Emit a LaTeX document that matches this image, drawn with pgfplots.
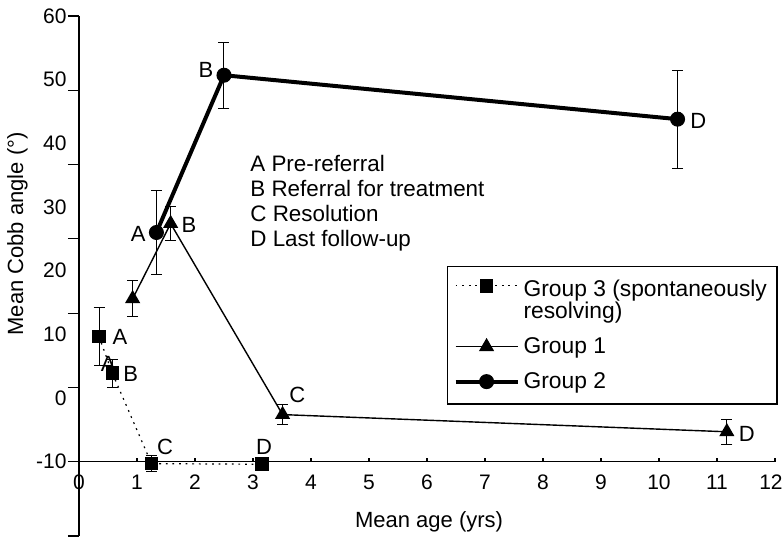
\documentclass[border=0pt]{standalone}
\usepackage{fontspec}
\setmainfont{Liberation Sans}
\usepackage{pgfplots}
\pgfplotsset{compat=1.18}
\usepackage{pgfplotstable}

\pgfplotsset{
  g3legend/.style={legend image code/.code={\path[draw=none,fill=none] (0pt,-11pt) rectangle (31pt,11pt);
    \draw[mark repeat=2,mark phase=2,##1] plot coordinates {(0pt,7.3pt) (15.5pt,7.3pt) (31pt,7.3pt)};}},
  linelegend/.style={legend image code/.code={\draw[mark repeat=2,mark phase=2,##1] plot coordinates {(0pt,0pt) (15.5pt,0pt) (31pt,0pt)};}},
}

% y values in the chart's (label) scale; +10 shift so that the x axis (-10) sits at 0
\pgfplotstableread{
x y e
0.345 9.65 4.6
0.575 3.9 2.2
1.25 -10.3 1.2
3.16 -10.4 0.3
}\gthree
\pgfplotstableread{
x y e
0.925 15.6 2.8
1.58 27.4 2.7
3.51 -2.6 1.6
11.17 -5.3 2.0
}\gone
\pgfplotstableread{
x y e
1.335 26.0 6.6
2.50 50.7 5.2
10.32 43.8 7.7
}\gtwo

\begin{document}
\begin{tikzpicture}
\begin{axis}[
  at={(0,0)}, anchor=south west,
  scale only axis, width=348pt, height=260pt,
  xmin=0, xmax=12, ymin=-11.667, ymax=70,
  axis x line=middle, axis y line=left,
  axis line style={-, line width=0.6pt},
  clip=false,
  xtick={0,...,12},
  xticklabels={0,1,2,3,4,5,6,7,8,9,10,11,\kern-4pt 12},
  ytick={0,10,...,70},
  yticklabels={-10,0,10,20,30,40,50,60},
  minor ytick={-11.667,0,11.667,23.333,35,46.667,58.333,70},
  hide obscured x ticks=false,
  hide obscured y ticks=false,
  major tick length=2pt,
  minor tick length=5.5pt,
  xtick align=inside,
  ytick align=outside,
  every major y tick/.append style={draw=none},
  tick style={line width=0.6pt, black},
  /pgf/number format/assume math mode=true,
  ticklabel style={font=\fontsize{10.5}{12}\selectfont},
  xticklabel style={yshift=-3pt},
  yticklabel style={xshift=-0.7pt},
  xlabel={Mean age (yrs)},
  ylabel={Mean Cobb angle (\textdegree)},
  every axis x label/.style={at={(axis description cs:0.503,0.027)}, anchor=center, font=\fontsize{11}{13}\selectfont},
  every axis y label/.style={at={(axis description cs:-0.0884,0.581)}, rotate=90, anchor=center, font=\fontsize{11}{13}\selectfont},
  legend style={
    at={(axis description cs:0.5287,0.519)}, anchor=north west,
    draw=black, line width=0.6pt,
    font=\fontsize{11.4}{11}\selectfont,
    cells={anchor=west, align=left},
    inner xsep=3pt, inner ysep=4.5pt,
    row sep=4pt,
  },
  linelegend,
  error bars/error bar style={line width=0.5pt, solid},
  error bars/error mark options={rotate=90, mark size=2.75pt, line width=0.5pt, solid},
]
% stray label partly hidden behind a marker
\node[font=\fontsize{11}{13}\selectfont] at (axis cs:0.505,15.36) {A};

\addplot[black, line width=0.6pt, dash pattern=on 0.9pt off 2.4pt,
  mark=square*, mark size=3.1pt, mark options={solid}, g3legend,
  error bars/.cd, y dir=both, y explicit]
  table[x=x, y expr=\thisrow{y}+10, y error=e] {\gthree};
\addlegendentry{Group 3 (spontaneously\\resolving)}

\addplot[black, line width=0.7pt, mark=triangle*, mark size=3.7pt, mark options={solid},
  error bars/.cd, y dir=both, y explicit]
  table[x=x, y expr=\thisrow{y}+10, y error=e] {\gone};
\addlegendentry{Group 1}

\addplot[black, line width=2pt, mark=*, mark size=3.5pt, mark options={solid, line width=0.5pt},
  error bars/.cd, y dir=both, y explicit]
  table[x=x, y expr=\thisrow{y}+10, y error=e] {\gtwo};
\addlegendentry{Group 2}

\begin{scope}[every node/.style={font=\fontsize{11}{13}\selectfont}]
% Group 2 labels
\node at (axis cs:1.022,35.80) {A};
\node at (axis cs:2.190,61.58) {B};
\node at (axis cs:10.678,53.50) {D};
% Group 1 labels
\node at (axis cs:1.897,37.26) {B};
\node at (axis cs:3.764,10.53) {C};
\node at (axis cs:11.512,4.35) {D};
% Group 3 labels
\node at (axis cs:0.707,19.54) {A};
\node at (axis cs:0.891,13.79) {B};
\node at (axis cs:1.483,2.36) {C};
\node at (axis cs:3.190,2.36) {D};
% key
\node[anchor=base west, inner sep=0pt, font=\fontsize{11.2}{13}\selectfont] at (axis cs:2.948,45.64) {A Pre-referral};
\node[anchor=base west, inner sep=0pt, font=\fontsize{11.2}{13}\selectfont] at (axis cs:2.948,41.66) {B Referral for treatment};
\node[anchor=base west, inner sep=0pt, font=\fontsize{11.2}{13}\selectfont] at (axis cs:2.948,37.73) {C Resolution};
\node[anchor=base west, inner sep=0pt, font=\fontsize{11.2}{13}\selectfont] at (axis cs:2.948,33.80) {D Last follow-up};
\end{scope}
\end{axis}
\pgfresetboundingbox
\path[use as bounding box] (-39.5pt,-3pt) rectangle (352pt,268pt);
\end{tikzpicture}
\end{document}
